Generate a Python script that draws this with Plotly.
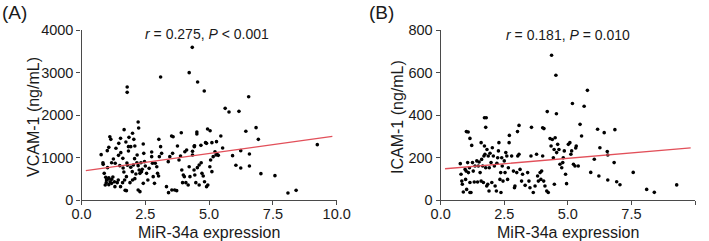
import plotly.graph_objects as go

# ---------------- data ----------------
x_ticks = [0, 2.5, 5, 7.5, 10]
x_tick_labels = ["0.0", "2.5", "5.0", "7.5", "10.0"]
ya_ticks = [0, 1000, 2000, 3000, 4000]
yb_ticks = [0, 200, 400, 600, 800]

a_points = [
    (4.34,3592),(4.22,2996),(3.10,2894),(4.55,2776),(4.81,2565),(1.79,2659),(1.79,2533),(6.55,2431),
    (5.63,2157),(5.78,2071),(6.17,2086),(6.84,1702),(6.44,1616),(2.22,1835),(2.24,1694),(1.67,1655),
    (2.0,1569),(4.52,1600),(4.52,1553),(4.94,1671),(5.04,1631),(3.91,1584),(3.53,1506),(5.46,1506),
    (6.93,1427),(9.24,1302),(6.24,1161),(6.58,1082),(5.92,1043),(6.58,800),(6.24,753),(6.05,816),
    (7.03,620),(7.58,573),(8.09,165),(8.41,227),(5.29,1373),(5.11,1349),(4.86,1349),(5.53,1224),
    (5.31,1075),(5.36,1051),(4.68,1286),(4.43,1278),(4.42,1255),(4.35,1145),
    (0.77,1067),(0.84,878),(0.85,839),(0.89,627),(0.95,533),(0.93,353),(0.97,408),(0.98,471),
    (1.05,494),(1.01,1161),(1.07,1239),(1.11,1490),(1.15,1427),(1.02,761),(1.07,525),(1.12,431),
    (1.07,361),(1.18,486),(1.18,392),(1.23,541),(1.29,431),
    (1.18,878),(1.25,965),(1.32,863),(1.35,1216),(1.45,1051),(1.50,808),(1.53,1451),(1.46,1333),
    (1.54,1114),(1.62,980),(1.63,753),(1.66,659),(1.69,471),(1.71,227),(1.76,220),(1.78,871),
    (1.80,816),(1.84,1153),(1.84,1255),(1.74,1365),(1.86,1474),(1.93,1255),(1.93,769),(1.99,667),
    (2.0,471),(2.03,824),(1.90,408),(1.76,549),(1.31,314),(1.40,408),(1.44,471),(1.53,314),(1.61,408),
    (2.05,1427),(2.09,1271),(2.08,973),(2.09,502),(2.13,612),(2.17,878),(2.18,1059),(2.22,235),
    (2.29,196),(2.22,808),(2.26,706),(2.29,627),(2.33,878),(2.35,667),(2.38,722),(2.42,1318),
    (2.44,1098),(2.47,902),(2.50,800),(2.42,392),(2.55,627),(2.60,471),(2.65,745),(2.75,1020),
    (2.78,863),(2.75,1129),(2.81,549),(2.86,392),
    (2.89,863),(2.95,784),(2.98,627),(3.02,565),(3.03,1427),(3.10,1255),(3.14,1098),(3.05,1020),
    (3.33,314),(3.41,173),(3.40,902),(3.46,1020),(3.57,1098),(3.54,235),(3.59,1490),
    (3.65,235),(3.73,220),(3.76,1271),(3.82,941),(3.88,1035),(3.93,706),(3.99,588),(3.96,408),
    (4.03,549),(4.09,408),(4.05,1137),(4.12,1176),(4.18,353),(4.22,784),(4.25,549),(4.35,1059),
    (4.41,706),(4.44,588),(4.42,1271),(4.48,408),(4.54,761),(4.61,824),(4.61,353),
    (4.69,878),(4.72,627),(4.77,565),(4.82,431),(4.90,314),(4.95,353),(5.03,784),(5.11,667),
    (5.06,941),(5.16,1020),(5.23,1137),(5.27,1059),(4.90,1333),
]

b_points = [
    (4.36,681),(4.53,587),(5.77,516),(5.18,454),(5.64,441),(4.19,416),(4.55,406),(1.72,387),
    (1.79,387),(1.77,342),(1.01,322),(1.08,320),(1.15,290),(1.22,257),(3.08,351),(3.02,322),
    (3.57,342),(4.01,340),(4.06,336),(5.48,356),(5.54,301),(6.17,333),(6.43,317),(6.85,331),
    (5.02,262),(5.08,270),(5.31,245),(6.26,246),(6.55,228),(6.57,212),(6.04,192),(6.82,176),
    (5.90,130),(6.22,113),(6.57,94),(6.92,86),(7.05,72),(7.57,130),(8.10,50),(8.40,36),
    (9.28,71),(4.95,77),
    (0.77,171),(0.80,121),(0.83,89),(0.85,74),(0.89,38),(0.96,144),(1.00,136),(0.98,97),
    (1.02,50),(1.09,129),(1.06,176),(1.13,152),(1.15,82),(1.15,35),
    (1.19,35),(1.25,176),(1.28,136),(1.32,85),(1.35,160),(1.42,184),(1.45,85),(1.51,179),
    (1.55,129),(1.59,89),(1.61,191),(1.65,160),(1.68,82),(1.70,207),(1.74,215),(1.77,152),
    (1.81,66),(1.85,74),(1.87,207),(1.72,254),(1.82,238),(1.90,42),(1.59,270),(1.48,160),
    (1.91,152),(1.94,220),(1.98,176),(2.01,82),(2.03,246),(2.07,207),(2.11,160),(2.14,66),
    (2.19,42),(2.21,173),(2.24,199),(2.27,231),(2.29,270),(2.33,97),(2.36,129),(2.40,199),
    (2.42,160),(2.37,35),(2.45,89),(2.50,184),(2.53,129),(2.56,223),(2.60,207),(2.63,97),
    (2.66,152),(2.70,304),(2.69,270),
    (2.79,207),(2.86,136),(2.90,58),(2.92,66),(2.99,129),(3.03,207),(3.08,215),(3.12,144),
    (3.18,89),(3.22,121),(3.32,69),(3.42,129),(3.47,89),(3.51,58),(3.55,207),
    (3.64,35),(3.71,66),(3.77,215),(3.81,113),(3.84,89),(3.91,129),(3.94,97),(3.97,136),
    (4.01,207),(4.05,89),(4.10,66),(4.17,42),(4.23,35),(4.30,289),(4.34,254),(4.39,285),
    (4.43,199),(4.47,74),(4.46,238),
    (4.50,293),(4.56,223),(4.60,262),(4.65,238),(4.69,168),(4.76,152),(4.80,176),(4.82,199),
    (4.86,231),(4.91,121),(5.12,215),(5.15,231),(5.22,168),(5.28,160),(5.33,254),(5.41,160),
]

fit_x = [0.17, 9.83]
fit_a = [690, 1498]
fit_b = [147, 245]

# ---------------- figure ----------------
FONT = "Arial, Liberation Sans, sans-serif"
AXC = "#4a4a4a"
TXT = "#1a1a1a"
RED = "#e2505a"

fig = go.Figure()
fig.add_trace(go.Scatter(x=[p[0] for p in a_points], y=[p[1] for p in a_points], mode="markers",
                         marker=dict(size=3.6, color="black"), xaxis="x", yaxis="y", showlegend=False))
fig.add_trace(go.Scatter(x=fit_x, y=fit_a, mode="lines", line=dict(color=RED, width=1.3),
                         xaxis="x", yaxis="y", showlegend=False))
fig.add_trace(go.Scatter(x=[p[0] for p in b_points], y=[p[1] for p in b_points], mode="markers",
                         marker=dict(size=3.6, color="black"), xaxis="x2", yaxis="y2", showlegend=False))
fig.add_trace(go.Scatter(x=fit_x, y=fit_b, mode="lines", line=dict(color=RED, width=1.3),
                         xaxis="x2", yaxis="y2", showlegend=False))

W, H = 709, 241
ax_common = dict(showline=True, linecolor=AXC, linewidth=1.3, ticks="outside", ticklen=4,
                 tickwidth=1.3, tickcolor=AXC, showgrid=False, zeroline=False, automargin=False,
                 tickfont=dict(family=FONT, size=14.5, color=TXT))
ydom = [1 - 200 / H, 1 - 30 / H]

fig.update_layout(
    width=W, height=H, margin=dict(l=0, r=0, t=0, b=0, pad=0),
    paper_bgcolor="white", plot_bgcolor="white",
    xaxis=dict(domain=[81.5 / W, 336.7 / W], range=[0, 10], tickvals=x_ticks, ticktext=x_tick_labels,
               anchor="y", ticklabelstandoff=-4, **ax_common),
    yaxis=dict(domain=ydom, range=[0, 4000], tickvals=ya_ticks, anchor="x", **ax_common),
    xaxis2=dict(domain=[440.7 / W, 695 / W], range=[0, 10], tickvals=x_ticks, ticktext=x_tick_labels,
                anchor="y2", ticklabelstandoff=-4, **ax_common),
    yaxis2=dict(domain=ydom, range=[0, 800], tickvals=yb_ticks, anchor="x2", **ax_common),
)

def ann(text, x, y, size, angle=0, xanchor="center"):
    fig.add_annotation(text=text, x=x, y=y, xref="paper", yref="paper", showarrow=False,
                       textangle=angle, xanchor=xanchor, yanchor="middle",
                       font=dict(family=FONT, size=size, color=TXT))

ann("(A)", 0 / W, 1 - 12 / H, 19, xanchor="left")
ann("(B)", 367 / W, 1 - 12 / H, 19, xanchor="left")
ann("<i>r</i> = 0.275, <i>P</i> &lt; 0.001", 207 / W, 1 - 34 / H, 14)
ann("<i>r</i> = 0.181, <i>P</i> = 0.010", 568 / W, 1 - 35 / H, 14)
ann("VCAM-1 (ng/mL)", 33 / W, 1 - 117 / H, 16, angle=-90)
ann("ICAM-1 (ng/mL)", 397 / W, 1 - 117 / H, 16, angle=-90)
ann("MiR-34a expression", 209 / W, 1 - 232 / H, 16)
ann("MiR-34a expression", 568 / W, 1 - 232 / H, 16)

fig.write_html("out.html", config={"displayModeBar": False},
               post_script="document.body.style.margin='0';document.body.style.overflow='hidden';")
